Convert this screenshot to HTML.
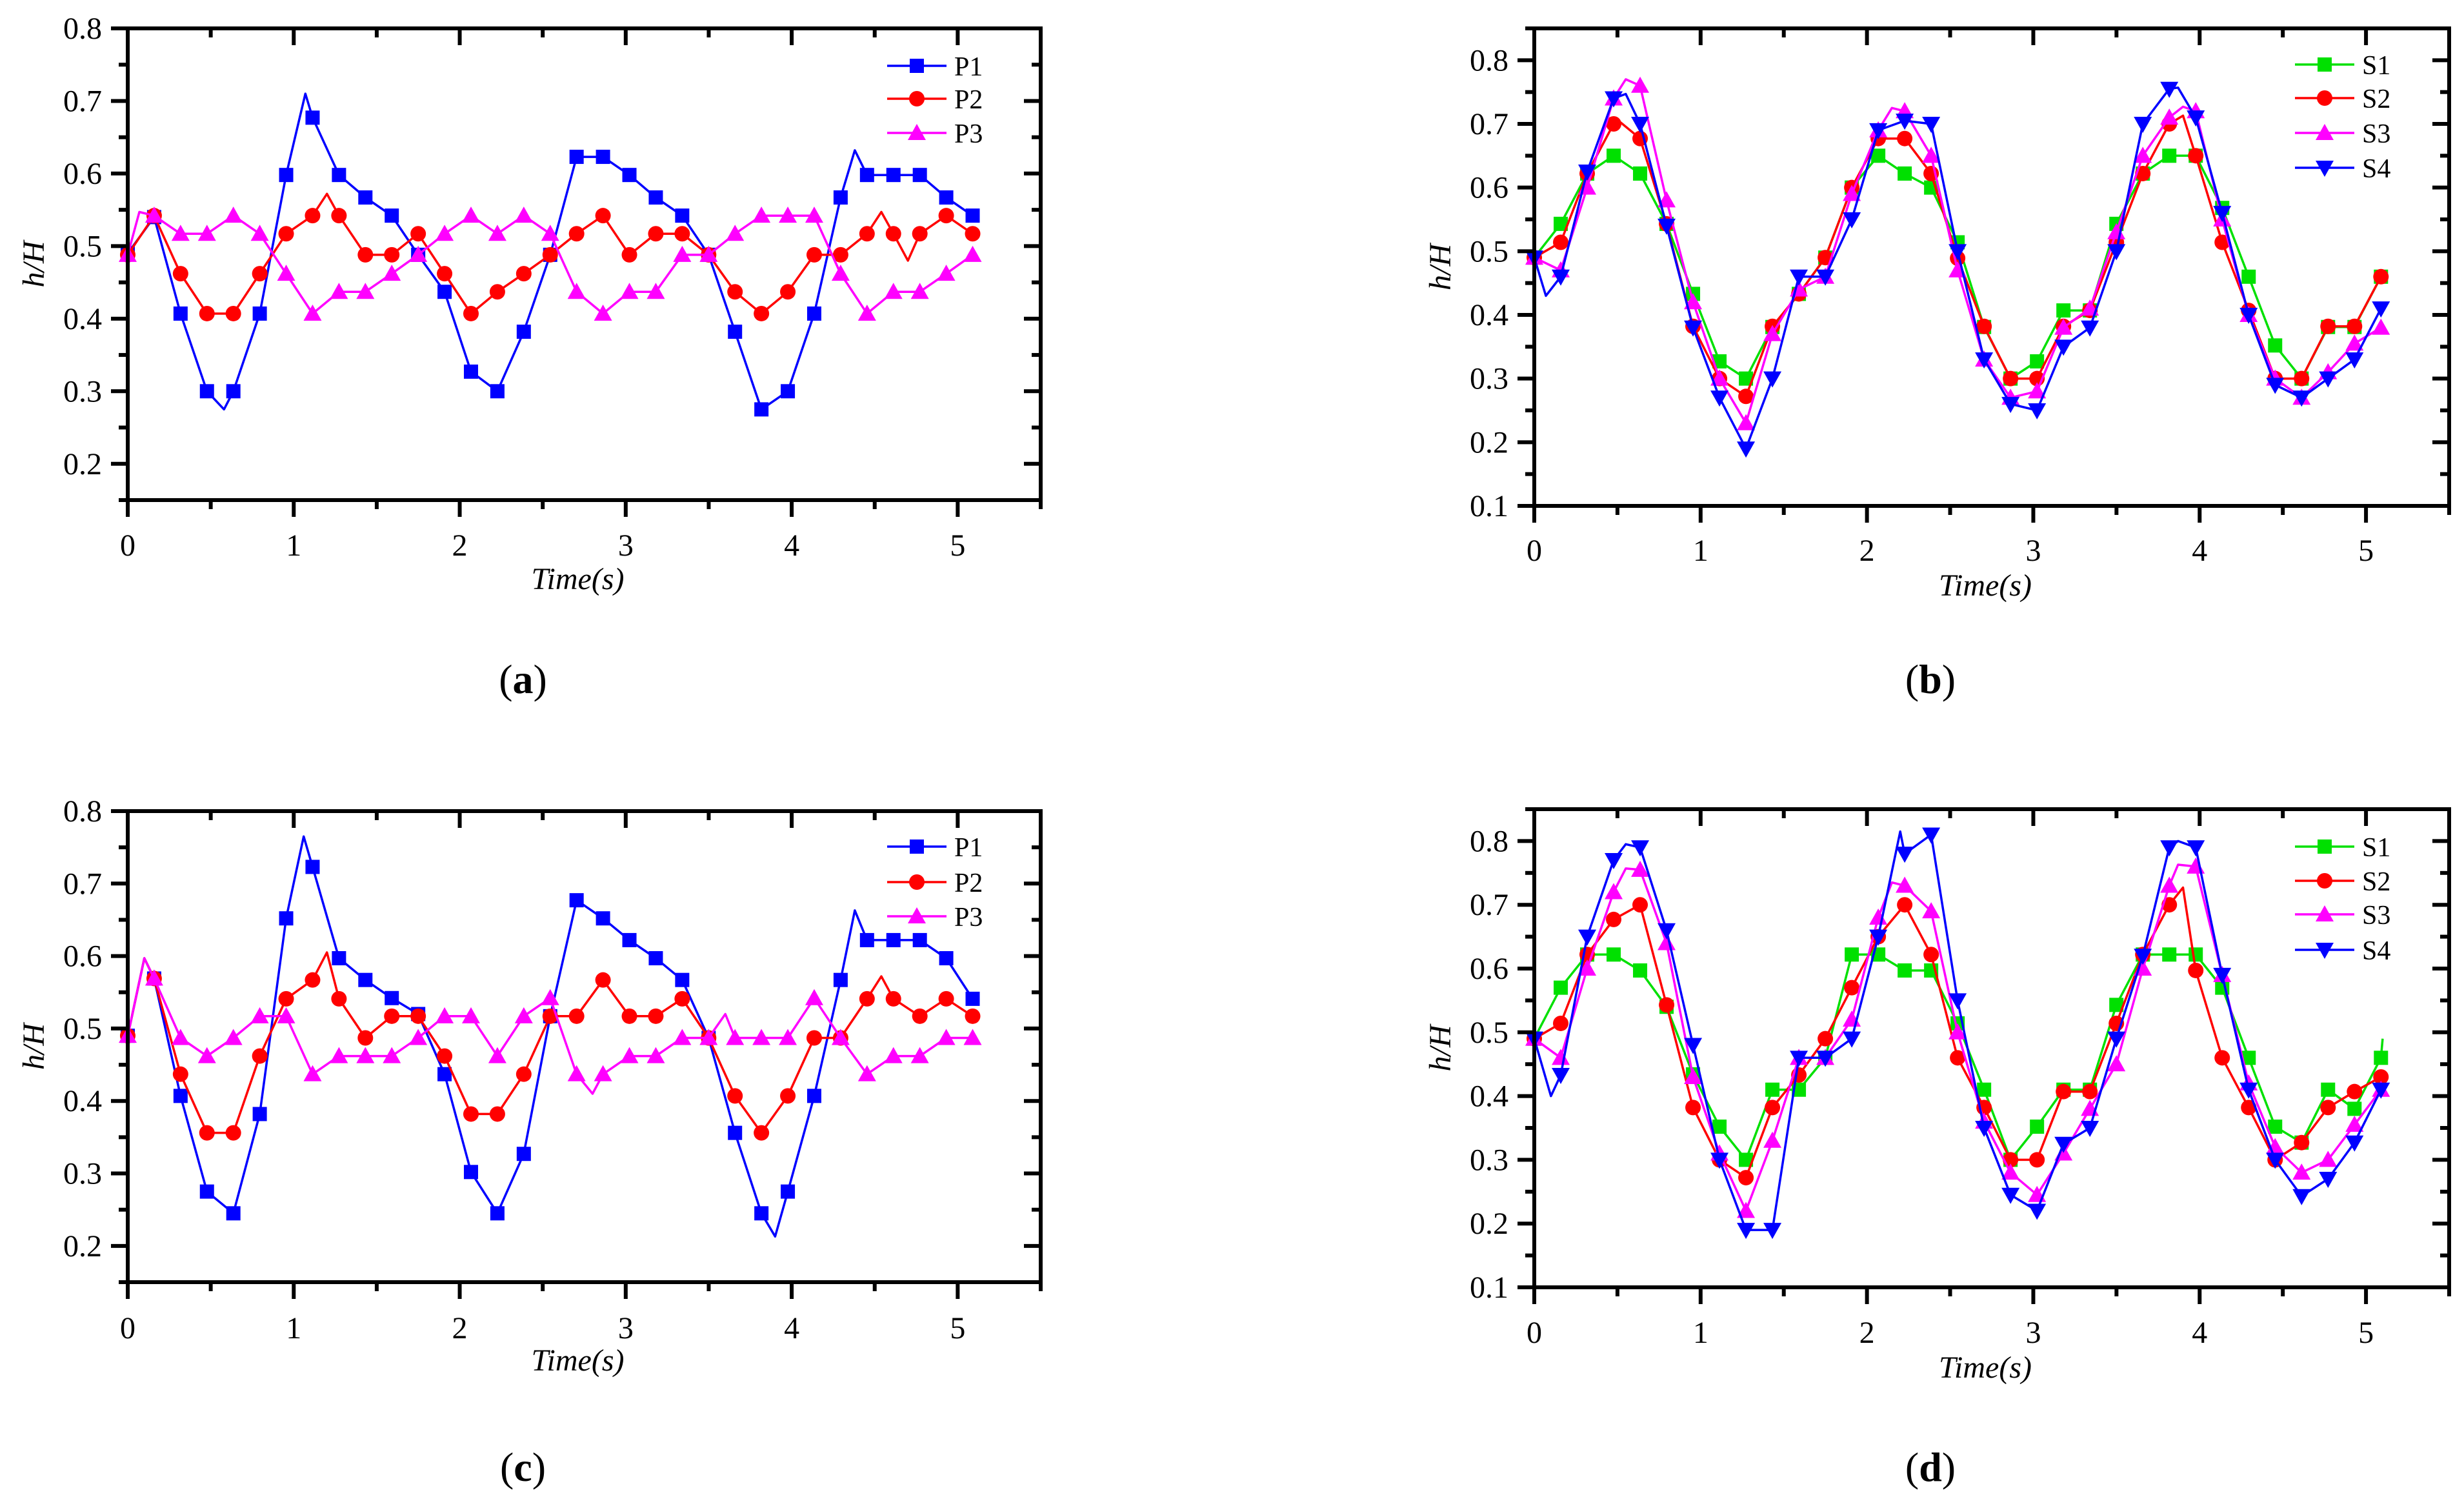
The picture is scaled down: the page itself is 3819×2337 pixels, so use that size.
<!DOCTYPE html>
<html><head><meta charset="utf-8"><style>
html,body{margin:0;padding:0;background:#fff;}
svg{display:block;font-family:"Liberation Serif",serif;}
</style></head><body>
<svg id="fig" width="3819" height="2337" viewBox="0 0 3819 2337" xmlns="http://www.w3.org/2000/svg"></svg>
<script>
// ---- data (marker values at equally spaced times, 33 markers over 0..5.09 s) ----
const markerCount = 33;
const tEnd = 5.09;
const xTicks = [0,1,2,3,4,5];
const yTicksP = [0.2,0.3,0.4,0.5,0.6,0.7,0.8];
const yTicksS = [0.1,0.2,0.3,0.4,0.5,0.6,0.7,0.8];

const aP1 = [0.49,0.54,0.407,0.30,0.30,0.407,0.598,0.677,0.598,0.567,0.542,0.488,0.437,0.327,0.30,0.382,0.488,0.623,0.623,0.598,0.567,0.542,0.488,0.382,0.275,0.30,0.407,0.567,0.598,0.598,0.598,0.567,0.542];
const aP2 = [0.488,0.542,0.462,0.407,0.407,0.462,0.517,0.542,0.542,0.488,0.488,0.517,0.462,0.407,0.437,0.462,0.488,0.517,0.542,0.488,0.517,0.517,0.488,0.437,0.407,0.437,0.488,0.488,0.517,0.517,0.517,0.542,0.517];
const aP3 = [0.488,0.542,0.517,0.517,0.542,0.517,0.462,0.407,0.437,0.437,0.462,0.488,0.517,0.542,0.517,0.542,0.517,0.437,0.407,0.437,0.437,0.488,0.488,0.517,0.542,0.542,0.542,0.462,0.407,0.437,0.437,0.462,0.488];
const aP1Extra = [[1.07,0.71],[0.58,0.275],[4.38,0.632]];
const aP2Extra = [[1.2,0.572],[4.54,0.547],[4.7,0.48]];
const aP3Extra = [[0.07,0.547]];

const cP1 = [0.49,0.569,0.407,0.275,0.245,0.382,0.652,0.723,0.597,0.567,0.542,0.52,0.437,0.302,0.245,0.327,0.517,0.677,0.652,0.622,0.597,0.567,0.487,0.356,0.245,0.275,0.407,0.567,0.622,0.622,0.622,0.597,0.541];
const cP2 = [0.49,0.569,0.437,0.356,0.356,0.462,0.541,0.567,0.541,0.487,0.517,0.517,0.462,0.382,0.382,0.437,0.517,0.517,0.567,0.517,0.517,0.541,0.487,0.407,0.356,0.407,0.487,0.487,0.541,0.541,0.517,0.541,0.517];
const cP3 = [0.49,0.569,0.487,0.462,0.487,0.517,0.517,0.437,0.462,0.462,0.462,0.487,0.517,0.517,0.462,0.517,0.542,0.437,0.437,0.462,0.462,0.487,0.487,0.487,0.487,0.487,0.542,0.487,0.437,0.462,0.462,0.487,0.487];
const cP1Extra = [[0.1,0.597],[1.06,0.765],[3.9,0.213],[4.38,0.663]];
const cP2Extra = [[0.1,0.597],[1.2,0.605],[4.54,0.572]];
const cP3Extra = [[0.1,0.597],[2.8,0.41],[3.6,0.52]];

const bS1 = [0.49,0.543,0.622,0.65,0.622,0.543,0.433,0.327,0.30,0.381,0.433,0.49,0.60,0.65,0.622,0.60,0.514,0.381,0.30,0.327,0.407,0.407,0.543,0.622,0.65,0.65,0.568,0.46,0.352,0.30,0.381,0.381,0.46];
const bS2 = [0.49,0.514,0.622,0.70,0.677,0.543,0.382,0.30,0.272,0.382,0.433,0.49,0.60,0.677,0.677,0.622,0.489,0.382,0.30,0.30,0.382,0.407,0.514,0.622,0.70,0.65,0.514,0.407,0.30,0.30,0.382,0.382,0.46];
const bS3 = [0.49,0.47,0.60,0.74,0.76,0.58,0.42,0.30,0.23,0.37,0.44,0.46,0.59,0.69,0.72,0.65,0.47,0.33,0.27,0.28,0.38,0.41,0.53,0.65,0.71,0.72,0.55,0.40,0.30,0.27,0.31,0.355,0.38];
const bS4 = [0.49,0.46,0.625,0.74,0.70,0.54,0.38,0.27,0.19,0.30,0.46,0.46,0.55,0.69,0.705,0.70,0.50,0.33,0.26,0.25,0.35,0.38,0.50,0.70,0.755,0.71,0.56,0.40,0.29,0.27,0.30,0.33,0.41];
const bS1Extra = [];
const bS2Extra = [[0.52,0.702],[3.9,0.713]];
const bS3Extra = [[0.55,0.77],[2.15,0.725],[3.9,0.727]];
const bS4Extra = [[0.07,0.43],[0.55,0.747],[3.87,0.757]];

const dS1 = [0.49,0.57,0.622,0.622,0.597,0.54,0.434,0.352,0.30,0.41,0.41,0.46,0.622,0.622,0.597,0.597,0.514,0.41,0.30,0.352,0.41,0.41,0.543,0.622,0.622,0.622,0.57,0.46,0.352,0.327,0.41,0.38,0.46];
const dS2 = [0.49,0.514,0.622,0.677,0.70,0.543,0.382,0.30,0.272,0.382,0.433,0.49,0.57,0.65,0.70,0.622,0.46,0.382,0.30,0.30,0.407,0.407,0.514,0.622,0.70,0.597,0.46,0.382,0.30,0.327,0.382,0.407,0.43];
const dS3 = [0.49,0.46,0.60,0.72,0.755,0.64,0.43,0.31,0.22,0.33,0.46,0.46,0.52,0.68,0.73,0.69,0.50,0.36,0.28,0.245,0.31,0.38,0.45,0.60,0.73,0.76,0.59,0.42,0.32,0.28,0.30,0.355,0.41];
const dS4 = [0.49,0.433,0.65,0.77,0.79,0.66,0.48,0.30,0.19,0.19,0.46,0.46,0.49,0.65,0.78,0.81,0.55,0.35,0.245,0.22,0.325,0.35,0.49,0.62,0.79,0.79,0.59,0.41,0.30,0.243,0.27,0.327,0.41];
const dS1Extra = [[5.1,0.49]];
const dS2Extra = [[3.9,0.727]];
const dS3Extra = [[0.55,0.757],[2.15,0.735],[3.87,0.763]];
const dS4Extra = [[0.1,0.40],[0.55,0.795],[2.2,0.815],[3.87,0.80]];

const seriesNamesP = ["P1","P2","P3"];
const seriesNamesS = ["S1","S2","S3","S4"];
const colorsP = ["#0000ff","#ff0000","#ff00ff"];
const markersP = ["square","circle","triUp"];
const colorsS = ["#00e000","#ff0000","#ff00ff","#0000ff"];
const markersS = ["square","circle","triUp","triDown"];

// ---- layout ----
const panels = [
 {id:"a", x0:198, x1:1613, yTop:44, yBot:775, yMax:0.8, yMin:0.15, yTicks:yTicksP, series:[aP1,aP2,aP3], extras:[aP1Extra,aP2Extra,aP3Extra], names:seriesNamesP, colors:colorsP, markers:markersP, legX:1375, legY:[102,153,206], labelY:1052, xLabY:845, titleY:897, yLabX:52},
 {id:"b", x0:2378, x1:3796, yTop:44, yBot:784, yMax:0.85, yMin:0.1, yTicks:yTicksS, series:[bS1,bS2,bS3,bS4], extras:[bS1Extra,bS2Extra,bS3Extra,bS4Extra], names:seriesNamesS, colors:colorsS, markers:markersS, legX:3557, legY:[100,152,206,260], labelY:1052, xLabY:853, titleY:907, yLabX:2232},
 {id:"c", x0:198, x1:1613, yTop:1257, yBot:1987, yMax:0.8, yMin:0.15, yTicks:yTicksP, series:[cP1,cP2,cP3], extras:[cP1Extra,cP2Extra,cP3Extra], names:seriesNamesP, colors:colorsP, markers:markersP, legX:1375, legY:[1312,1367,1420], labelY:2273, xLabY:2058, titleY:2108, yLabX:52},
 {id:"d", x0:2378, x1:3796, yTop:1254, yBot:1995, yMax:0.85, yMin:0.1, yTicks:yTicksS, series:[dS1,dS2,dS3,dS4], extras:[dS1Extra,dS2Extra,dS3Extra,dS4Extra], names:seriesNamesS, colors:colorsS, markers:markersS, legX:3557, legY:[1312,1365,1417,1472], labelY:2273, xLabY:2065, titleY:2119, yLabX:2232}
];

const NS = "http://www.w3.org/2000/svg";
const svg = document.getElementById("fig");
function mk(tag, attrs, parent){ const e=document.createElementNS(NS,tag); for(const k in attrs) e.setAttribute(k,attrs[k]); (parent||svg).appendChild(e); return e; }

function drawMarker(g, type, x, y, color){
  let e;
  if(type==="square") e=mk("rect",{x:x-11,y:y-11,width:22,height:22,fill:color},g);
  else if(type==="circle") e=mk("circle",{cx:x,cy:y,r:12,fill:color},g);
  else if(type==="triUp") e=mk("polygon",{points:`${x},${y-14} ${x-14},${y+11} ${x+14},${y+11}`,fill:color},g);
  else e=mk("polygon",{points:`${x},${y+14} ${x-14},${y-11} ${x+14},${y-11}`,fill:color},g);
  return e;
}

panels.forEach(p=>{
  const sx = t => p.x0 + t*(p.x1-p.x0)/5.5;
  const sy = v => p.yBot - (v-p.yMin)*(p.yBot-p.yTop)/(p.yMax-p.yMin);
  const g = mk("g",{});
  
  

  p.series.forEach((vals,si)=>{
    const pts = vals.map((v,i)=>[i*tEnd/(markerCount-1), v]).concat(p.extras[si]).sort((a,b)=>a[0]-b[0]);
    const sg = mk("g",{},g);
    
    
    const line = mk("polyline",{points:pts.map(q=>sx(q[0]).toFixed(1)+","+sy(q[1]).toFixed(1)).join(" "),fill:"none",stroke:p.colors[si],"stroke-width":3.5,"stroke-linejoin":"round"},sg);
    
    
    vals.forEach((v,i)=>{
      const m = drawMarker(sg, p.markers[si], sx(i*tEnd/(markerCount-1)), sy(v), p.colors[si]);
      
      
    });
  });

  const ax = mk("g",{stroke:"#000","stroke-width":6,fill:"none"},g);
  
  
  mk("rect",{x:p.x0,y:p.yTop,width:p.x1-p.x0,height:p.yBot-p.yTop},ax);

  for(let t=0;t<=5.5+1e-9;t+=0.5){
    const major = Math.abs(t-Math.round(t))<1e-6;
    const L = major?26:14;
    const x=sx(t);
    mk("line",{x1:x,y1:p.yBot,x2:x,y2:p.yBot+L},ax);
    mk("line",{x1:x,y1:p.yTop,x2:x,y2:p.yTop+L},ax);
  }
  for(let v=Math.round(p.yMin*20)/20; v<=p.yMax+1e-9; v+=0.05){
    const major = Math.abs(v*10-Math.round(v*10))<1e-6;
    const L = major?26:14;
    const y=sy(v);
    mk("line",{x1:p.x0,y1:y,x2:p.x0-L,y2:y},ax);
    mk("line",{x1:p.x1,y1:y,x2:p.x1-L,y2:y},ax);
  }
  xTicks.forEach(t=>{
    const tx = mk("text",{x:sx(t),y:p.xLabY+16,"font-size":48,"text-anchor":"middle"},g);
    tx.textContent=t;
    
    
  });
  p.yTicks.forEach(v=>{
    const ty = mk("text",{x:p.x0-40,y:sy(v)+16,"font-size":48,"text-anchor":"end"},g);
    ty.textContent=v.toFixed(1);
    
    
  });
  const xt = mk("text",{x:(p.x0+p.x1)/2-10,y:p.titleY+16,"font-size":48,"font-style":"italic","text-anchor":"middle"},g);
  xt.textContent="Time(s)";
  
  
  const yc=(p.yTop+p.yBot)/2;
  const yt = mk("text",{x:p.yLabX,y:yc,"font-size":48,"font-style":"italic","text-anchor":"middle",transform:`rotate(-90 ${p.yLabX} ${yc}) translate(0 16)`},g);
  yt.textContent="h/H";
  
  

  const lg = mk("g",{},g);
  
  
  p.names.forEach((n,si)=>{
    const y=p.legY[si];
    const le = mk("g",{},lg);
    
    
    mk("line",{x1:p.legX,y1:y,x2:p.legX+92,y2:y,stroke:p.colors[si],"stroke-width":3.5},le);
    drawMarker(le,p.markers[si],p.legX+46,y,p.colors[si]);
    const lt = mk("text",{x:p.legX+104,y:y+15,"font-size":42},le);
    lt.textContent=n;
  });

  const pl = mk("text",{x:(p.x0+p.x1)/2-95,y:p.labelY+22,"font-size":64,"text-anchor":"middle"},g);
  pl.innerHTML = '(<tspan font-weight="bold">'+p.id+'</tspan>)';
  
  
});
</script>
</body></html>
